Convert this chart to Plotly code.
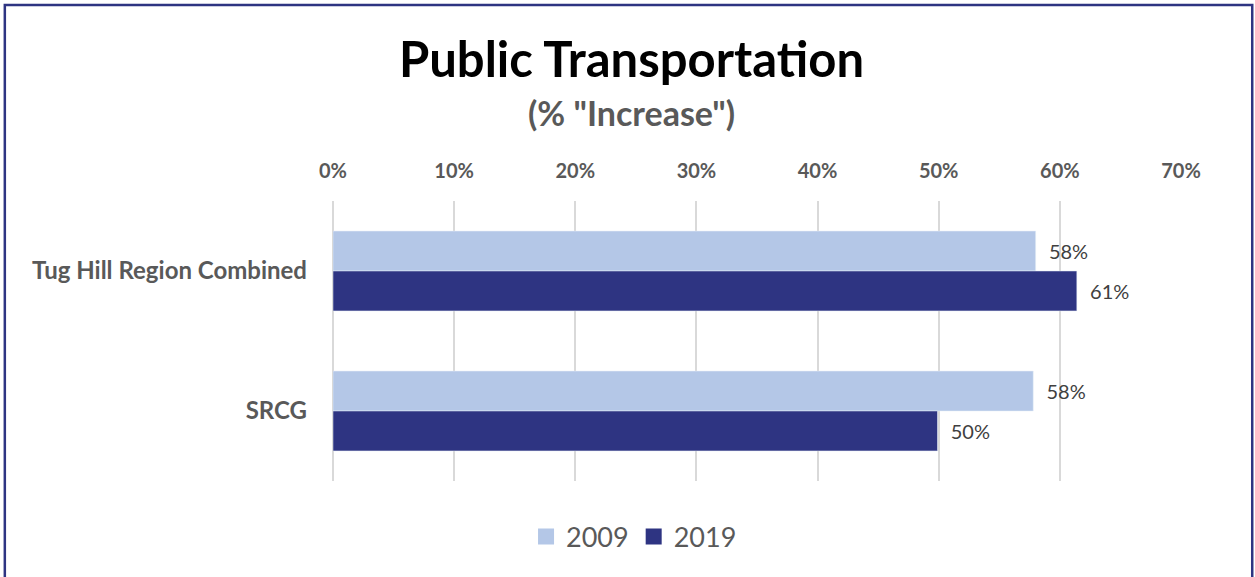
"""Public Transportation bar chart."""
import plotly.graph_objects as go

categories = ["Tug Hill Region Combined", "SRCG"]
series_names = ["2009", "2019"]
values_2009 = [0.58, 0.578]
values_2019 = [0.614, 0.499]
tick_vals = [0, 0.1, 0.2, 0.3, 0.4, 0.5, 0.6, 0.7]
tick_text = ["0%", "10%", "20%", "30%", "40%", "50%", "60%", "70%"]

LIGHT = "#b4c7e7"
DARK = "#2e3482"
GRAY = "#595959"
FONT = "Lato"

fig = go.Figure()

for name, values, color in zip(series_names, [values_2009, values_2019], [LIGHT, DARK]):
    fig.add_trace(go.Bar(
        y=categories,
        x=values,
        name=name,
        orientation="h",
        marker=dict(color=color),
        texttemplate="\u00a0\u00a0%{x:.0%}",
        textposition="outside",
        textfont=dict(size=20, color="#404040", family=FONT),
        cliponaxis=False,
        showlegend=False
    ))
    # legend entry with a bigger square swatch
    fig.add_trace(go.Scatter(
        x=[None],
        y=[None],
        name=name,
        mode="markers",
        marker=dict(symbol="square", size=18, color=color),
        showlegend=True
    ))

fig.update_layout(
    width=1255,
    height=577,
    barmode="group",
    bargap=0.43,
    bargroupgap=0,
    plot_bgcolor="white",
    paper_bgcolor="white",
    font=dict(family=FONT, color=GRAY),
    margin=dict(t=201, b=96, l=333, r=74),
    showlegend=True,
    legend=dict(
        orientation="h",
        traceorder="normal",
        itemsizing="trace",
        xanchor="center",
        x=0.355,
        yanchor="middle",
        y=-0.2,
        font=dict(size=27, color=GRAY, family=FONT),
        itemwidth=30
    ),
    annotations=[
        dict(text="<b>Public Transportation</b>", xref="paper", yref="paper",
             x=0.352, y=1.51, xanchor="center", yanchor="middle", showarrow=False,
             font=dict(size=49, color="black", family=FONT)),
        dict(text="<b>(% \"Increase\")</b>", xref="paper", yref="paper",
             x=0.352, y=1.315, xanchor="center", yanchor="middle", showarrow=False,
             font=dict(size=34, color=GRAY, family=FONT)),
    ],
    shapes=[
        dict(type="rect", xref="paper", yref="paper",
             x0=-0.387, x1=1.084, y0=-0.36, y1=1.7,
             line=dict(color=DARK, width=2.5), layer="below")
    ]
)

fig.update_xaxes(
    side="top",
    range=[0, 0.7],
    tickvals=tick_vals,
    ticktext=[f"<b>{t}</b>" for t in tick_text],
    tickfont=dict(size=20, color=GRAY, family=FONT),
    showgrid=True,
    gridcolor="#d9d9d9",
    gridwidth=1.5,
    zeroline=True,
    zerolinecolor="#d9d9d9",
    zerolinewidth=1.5,
    showline=False,
    ticks="",
    ticklabelstandoff=18
)

fig.update_yaxes(
    autorange="reversed",
    tickfont=dict(size=24, color=GRAY, family=FONT),
    ticktext=[f"<b>{c}</b>" for c in categories],
    tickvals=categories,
    showgrid=False,
    showline=False,
    ticks="",
    ticklabelstandoff=25
)

fig.write_html(
    "out.html",
    config={"displayModeBar": False},
    post_script="document.body.style.margin='0';"
)
